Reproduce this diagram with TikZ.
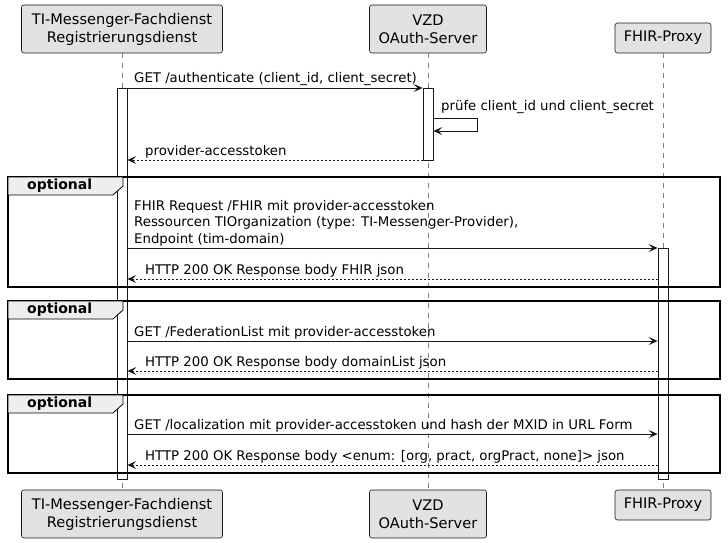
\documentclass[tikz,border=0pt]{standalone}
\usepackage{fontspec}
\setmainfont{DejaVu Sans}
\usetikzlibrary{arrows.meta}
\definecolor{partfill}{HTML}{E2E2E2}
\definecolor{tabfill}{HTML}{EEEEEE}
\definecolor{partline}{HTML}{181818}
\tikzset{>={Stealth[length=9pt,width=8pt,inset=4pt]}}
\tikzset{
  part/.style={draw=partline, line width=0.6pt, fill=partfill, rounded corners=2.5pt,
    align=center, inner sep=0pt, font=\fontsize{14.6}{18}\selectfont},
  life/.style={draw=gray, line width=0.6pt, dash pattern=on 5pt off 5pt},
  actbar/.style={draw=partline, line width=0.8pt, fill=white, minimum width=10pt, inner sep=0pt},
  msg/.style={->, draw=partline, line width=0.8pt},
  ret/.style={msg, dash pattern=on 2pt off 2pt},
  lbl/.style={anchor=south west, inner sep=0pt, align=left, font=\fontsize{13.3}{16.5}\selectfont},
  grp/.style={draw=black, line width=1.6pt},
  grptab/.style={draw=black, line width=0.8pt, fill=tabfill},
  grplbl/.style={anchor=west, inner sep=0pt, font=\fontsize{14}{15}\selectfont\bfseries}
}

\begin{document}
\begin{tikzpicture}[x=1pt, y=-1pt]
\useasboundingbox (0,0) rectangle (728,543);

% participants
\node[part, minimum width=201pt, minimum height=48pt] (fdTop) at (122,29) {TI-Messenger-Fachdienst\\Registrierungsdienst};
\node[part, minimum width=117pt, minimum height=48pt] (vzdTop) at (428,29) {VZD\\OAuth-Server};
\node[part, minimum width=96pt, minimum height=30pt] (fhirTop) at (663,38) {FHIR-Proxy};
\node[part, minimum width=201pt, minimum height=48pt] (fdBot) at (122,514) {TI-Messenger-Fachdienst\\Registrierungsdienst};
\node[part, minimum width=117pt, minimum height=48pt] (vzdBot) at (428,514) {VZD\\OAuth-Server};
\node[part, minimum width=96pt, minimum height=30pt] (fhirBot) at (663,505) {FHIR-Proxy};

% lifelines
\draw[life] (fdTop) -- (fdBot);
\draw[life] (vzdTop) -- (vzdBot);
\draw[life] (fhirTop) -- (fhirBot);

% activations
\node[actbar, minimum height=391pt] (fdAct) at (122,283.5) {};
\node[actbar, minimum height=72pt] (vzdAct) at (428,124) {};
\node[actbar, minimum height=231pt] (fhirAct) at (663,363.5) {};

% authentication
\draw[msg] (fdAct.east |- 0,88) -- (vzdAct.west |- 0,88);
\node[lbl] (m1) at (134,86) {GET /authenticate (client\_id, client\_secret)};
\coordinate (loopA) at (477,118);
\coordinate (loopB) at (477,131);
\draw[msg] (vzdAct.east |- loopA) -- (loopA) -- (loopB) -- (vzdAct.east |- loopB);
\node[lbl] (m2) at (441,114) {prüfe client\_id und client\_secret};
\draw[ret] (vzdAct.west |- 0,160) -- (fdAct.east |- 0,160);
\node[lbl] (m3) at (145,158) {provider-accesstoken};

% group 1
\draw[grp] (8,177) rectangle (720,287);
\draw[grptab] (8,177) -- (123,177) -- (123,186) -- (113,195) -- (8,195) -- cycle;
\node[grplbl] (g1) at (27,186) {optional};
\draw[msg] (fdAct.east |- 0,248) -- (fhirAct.west |- 0,248);
\node[lbl] (m4) at (134,246) {FHIR Request /FHIR mit provider-accesstoken\\Ressourcen TIOrganization (type: TI-Messenger-Provider),\\Endpoint (tim-domain)};
\draw[ret] (fhirAct.west |- 0,279) -- (fdAct.east |- 0,279);
\node[lbl] (m5) at (145,277) {HTTP 200 OK Response body FHIR json};

% group 2
\draw[grp] (8,301) rectangle (720,379);
\draw[grptab] (8,301) -- (123,301) -- (123,310) -- (113,319) -- (8,319) -- cycle;
\node[grplbl] (g2) at (27,310) {optional};
\draw[msg] (fdAct.east |- 0,341) -- (fhirAct.west |- 0,341);
\node[lbl] (m6) at (134,339) {GET /FederationList mit provider-accesstoken};
\draw[ret] (fhirAct.west |- 0,371) -- (fdAct.east |- 0,371);
\node[lbl] (m7) at (145,369) {HTTP 200 OK Response body domainList json};

% group 3
\draw[grp] (8,395) rectangle (720,473);
\draw[grptab] (8,395) -- (123,395) -- (123,404) -- (113,413) -- (8,413) -- cycle;
\node[grplbl] (g3) at (27,404) {optional};
\draw[msg] (fdAct.east |- 0,434) -- (fhirAct.west |- 0,434);
\node[lbl] (m8) at (134,432) {GET /localization mit provider-accesstoken und hash der MXID in URL Form};
\draw[ret] (fhirAct.west |- 0,465) -- (fdAct.east |- 0,465);
\node[lbl] (m9) at (145,463) {HTTP 200 OK Response body <enum: [org, pract, orgPract, none]> json};
\end{tikzpicture}
\end{document}
